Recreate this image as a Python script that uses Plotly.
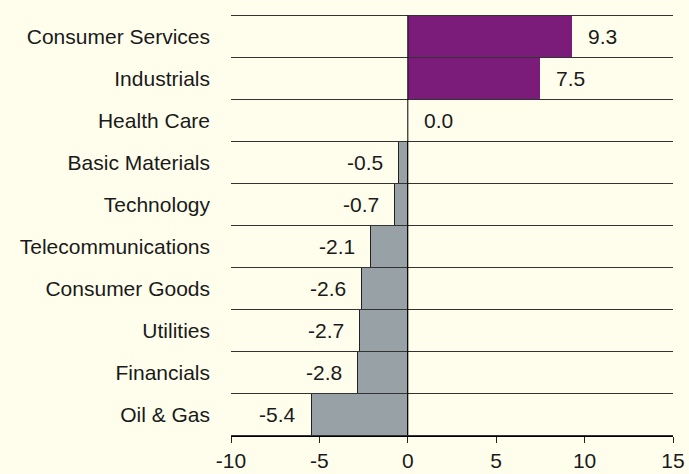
import plotly.graph_objects as go

categories = ["Consumer Services", "Industrials", "Health Care", "Basic Materials",
              "Technology", "Telecommunications", "Consumer Goods", "Utilities",
              "Financials", "Oil & Gas"]
values = [9.3, 7.5, 0.0, -0.5, -0.7, -2.1, -2.6, -2.7, -2.8, -5.4]
x_ticks = [-10, -5, 0, 5, 10, 15]

BG = "#FFFEEC"
POS = "#7B1C7B"
NEG = "#98A1A6"
FONT = "Liberation Sans, Arial, sans-serif"
FS = 21

colors = [POS if v >= 0 else NEG for v in values]
line_colors = [POS if v >= 0 else "#222222" for v in values]
line_widths = [0 if v >= 0 else 1 for v in values]

fig = go.Figure(go.Bar(
    x=values, y=categories, orientation="h",
    marker=dict(color=colors, line=dict(color=line_colors, width=line_widths)),
    hoverinfo="x+y",
))

# value labels
for c, v in zip(categories, values):
    fig.add_annotation(
        x=v, y=c, text=f"{v:.1f}", showarrow=False,
        xanchor="left" if v >= 0 else "right",
        xshift=14 if v >= 0 else -14,
        font=dict(size=FS, color="#1a1a1a", family=FONT),
    )

# horizontal separators between categories
n = len(categories)
for i in range(n + 1):
    fig.add_shape(type="line", xref="paper", yref="y",
                  x0=0, x1=1, y0=i - 0.5, y1=i - 0.5,
                  line=dict(color="#333333", width=1), layer="above")

# zero line
fig.add_shape(type="line", xref="x", yref="y", x0=0, x1=0,
              y0=-0.5, y1=n - 0.5, line=dict(color="#000000", width=1),
              layer="above")

fig.update_layout(
    width=689, height=474,
    paper_bgcolor=BG, plot_bgcolor=BG,
    margin=dict(l=231, r=16, t=15, b=38, autoexpand=False),
    bargap=0,
    showlegend=False,
    font=dict(family=FONT, size=FS, color="#1a1a1a"),
    xaxis=dict(
        range=[-10, 15], tickvals=x_ticks, ticktext=[str(t) for t in x_ticks],
        showgrid=False, zeroline=False, automargin=False,
        showline=True, linecolor="#000000", linewidth=1,
        ticks="outside", ticklen=6, tickcolor="#222222",
        tickfont=dict(size=FS), fixedrange=True,
    ),
    yaxis=dict(
        categoryorder="array", categoryarray=categories,
        autorange="reversed", showgrid=False, zeroline=False, automargin=False,
        showline=False, ticks="", ticklabelstandoff=20,
        tickfont=dict(size=FS), fixedrange=True,
    ),
)

fig.write_html(
    "out.html",
    config={"displayModeBar": False},
    post_script=(
        "document.body.style.margin='0';"
        "document.body.style.padding='0';"
        f"document.body.style.background='{BG}';"
        "document.documentElement.style.background='" + BG + "';"
    ),
)
